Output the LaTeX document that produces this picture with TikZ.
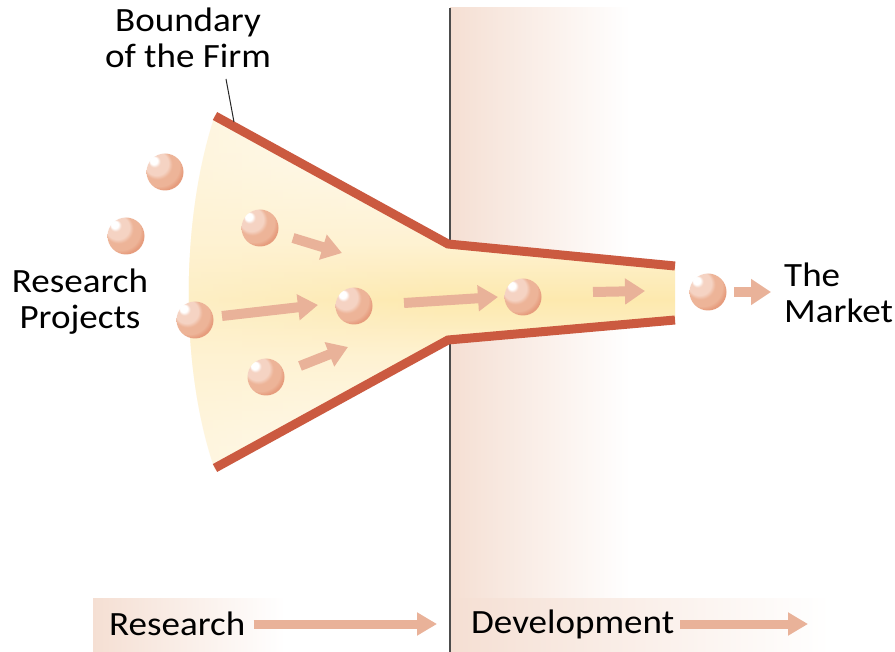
\documentclass[tikz,border=0pt]{standalone}
\usepackage{fontspec}
\setmainfont[FakeStretch=1.09]{Carlito}
\usetikzlibrary{arrows.meta,fadings}
\definecolor{funnelred}{HTML}{CB5A40}
\definecolor{arrowc}{HTML}{E9B299}
\definecolor{bandc}{HTML}{F5DFD3}
\definecolor{yel}{HTML}{FDE9AE}
\definecolor{yellight}{HTML}{FEF2D2}
\definecolor{yelpale}{HTML}{FFFAEE}
\definecolor{ballhi}{HTML}{F5D3C3}
\definecolor{ballmid}{HTML}{EDB498}
\definecolor{ballbase}{HTML}{E69C7D}
\definecolor{balldark}{HTML}{D7795A}
\pgfdeclareradialshading{ballshade}{\pgfpoint{-17bp}{17bp}}{color(0bp)=(white); color(5bp)=(white); color(8bp)=(ballhi); color(16bp)=(ballhi); color(20bp)=(ballmid); color(27bp)=(ballmid); color(31bp)=(ballbase); color(37bp)=(ballbase); color(41bp)=(balldark); color(50bp)=(balldark)}
\pgfdeclareverticalshading{funnelshade}{100bp}{color(0bp)=(white); color(15bp)=(white); color(30bp)=(yelpale); color(41bp)=(yellight); color(49bp)=(yel); color(57bp)=(yellight); color(68bp)=(yelpale); color(85bp)=(white); color(100bp)=(white)}
\tikzfading[name=fadeR, left color=transparent!35, right color=transparent!100]
\tikzset{
  lbl/.style={inner sep=0pt, font=\fontsize{34pt}{36pt}\selectfont, text=black},
  ball/.style={circle, minimum size=37pt, inner sep=0pt, shading=ballshade},
  blk/.style={draw=arrowc, line width=10pt, -{Triangle[length=20pt,width=25pt]}},
  blkb/.style={draw=arrowc, line width=9pt, -{Triangle[length=20pt,width=22pt]}},
  wall/.style={funnelred, line width=9pt, line join=miter},
}
\begin{document}
\begin{tikzpicture}[x=1pt,y=-1pt]
\useasboundingbox (0,0) rectangle (895,652);
\fill[white] (0,0) rectangle (895,652);
% bands
\shade[left color=bandc, right color=white] (450,8) rectangle (630,598);
\shade[left color=bandc, right color=white] (450,598) rectangle (830,652);
\shade[left color=bandc, right color=white] (93,598) rectangle (285,652);
\draw[line width=1.3pt, black!70] (450,8) -- (450,652);
% funnel fill
\shade[shading=funnelshade] (215,115) -- (448,242) -- (675,266) -- (675,320) -- (448,340) -- (215,470)
  .. controls (180,370) and (180,220) .. (215,115) -- cycle;
\fill[yellight, path fading=fadeR] (215,115) -- (448,242) -- (448,340) -- (215,470)
  .. controls (180,370) and (180,220) .. (215,115) -- cycle;
% walls
\draw[wall] (215,116) -- (448,244) -- (675,266);
\draw[wall] (215,468) -- (448,340) -- (675,320);
% labels
\node[lbl, align=center] (bound) at (188,38) {Boundary\\of the Firm};
\coordinate (leadA) at (226,79);
\coordinate (leadB) at (234,122);
\draw[line width=1pt, black!85] (leadA) -- (leadB);
\node[lbl, align=center] (rp) at (80,302) {Research\\Projects};
\node[lbl, align=left, anchor=west] (mkt) at (784,293) {The\\Market};
\node[lbl, anchor=west] (res) at (109,624) {Research};
\node[lbl, anchor=west] (dev) at (471,624) {Development};
% balls
\node[ball] (b1) at (165,172) {};
\node[ball] (b2) at (126,236) {};
\node[ball] (b3) at (260,228) {};
\node[ball] (b4) at (195,320) {};
\node[ball] (b5) at (354,306) {};
\node[ball] (b6) at (266,377) {};
\node[ball] (b7) at (523,297) {};
\node[ball] (b8) at (708,292) {};
% arrows
\coordinate (a1s) at (293,238); \coordinate (a1e) at (342,253);
\coordinate (a2s) at (222,316); \coordinate (a2e) at (318,305);
\coordinate (a3s) at (300,366); \coordinate (a3e) at (348,347);
\coordinate (a4s) at (404,303); \coordinate (a4e) at (498,297);
\coordinate (a5s) at (593,292); \coordinate (a5e) at (645,291);
\coordinate (a6s) at (734,292); \coordinate (a6e) at (771,292);
\draw[blk] (a1s) -- (a1e);
\draw[blk] (a2s) -- (a2e);
\draw[blk] (a3s) -- (a3e);
\draw[blk] (a4s) -- (a4e);
\draw[blk] (a5s) -- (a5e);
\draw[blk] (a6s) -- (a6e);
\draw[blkb] (res.east) ++(8,0) coordinate (r1) -- (437,624) coordinate (r2);
\draw[blkb] (dev.east) ++(6,0) coordinate (d1) -- (808,624) coordinate (d2);
\end{tikzpicture}
\end{document}
